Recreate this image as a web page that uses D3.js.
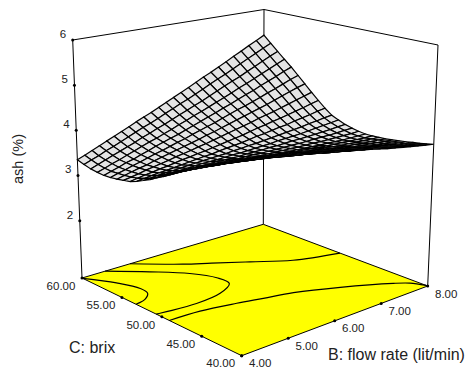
<!DOCTYPE html>
<html>
<head>
<meta charset="utf-8">
<script src="https://cdn.jsdelivr.net/npm/d3@7"></script>
<style>
  html, body { margin: 0; padding: 0; background: #fff; }
  text { font-family: "Liberation Sans", Arial, sans-serif; fill: #222; }
</style>
</head>
<body>
<svg id="chart"></svg>
<script>
const width = 470;
const height = 368;

// Tick labels
const flowTicks = [4, 5, 6, 7, 8];
const brixTicks = [60, 55, 50, 45, 40];
const ashTicks = [2, 3, 4, 5, 6];

// Mesh lines of the surface
const flowRate = [4.00, 4.16, 4.32, 4.48, 4.64, 4.80, 4.96, 5.12, 5.28, 5.44, 5.60, 5.76, 5.92, 6.08, 6.24, 6.40, 6.56, 6.72, 6.88, 7.04, 7.20, 7.36, 7.52, 7.68, 7.84, 8.00];
const brix = [40, 40.8, 41.6, 42.4, 43.2, 44, 44.8, 45.6, 46.4, 47.2, 48, 48.8, 49.6, 50.4, 51.2, 52, 52.8, 53.6, 54.4, 55.2, 56, 56.8, 57.6, 58.4, 59.2, 60];

// ash (%), one row per brix value, one column per flow rate
const ash = [
  [4.60, 4.59, 4.57, 4.55, 4.52, 4.49, 4.46, 4.44, 4.41, 4.37, 4.33, 4.30, 4.26, 4.23, 4.19, 4.17, 4.13, 4.10, 4.06, 4.02, 3.99, 3.95, 3.92, 3.89, 3.86, 3.83],
  [4.53, 4.52, 4.51, 4.48, 4.46, 4.43, 4.40, 4.38, 4.35, 4.31, 4.28, 4.24, 4.21, 4.18, 4.15, 4.12, 4.08, 4.05, 4.02, 3.98, 3.95, 3.92, 3.89, 3.86, 3.83, 3.80],
  [4.47, 4.45, 4.44, 4.42, 4.39, 4.36, 4.34, 4.31, 4.28, 4.25, 4.22, 4.19, 4.16, 4.12, 4.09, 4.07, 4.04, 4.00, 3.97, 3.94, 3.91, 3.88, 3.85, 3.82, 3.80, 3.77],
  [4.40, 4.38, 4.37, 4.35, 4.32, 4.30, 4.27, 4.25, 4.22, 4.19, 4.16, 4.13, 4.10, 4.07, 4.04, 4.02, 3.99, 3.96, 3.93, 3.90, 3.87, 3.84, 3.82, 3.79, 3.77, 3.75],
  [4.32, 4.31, 4.30, 4.28, 4.26, 4.23, 4.21, 4.19, 4.16, 4.13, 4.10, 4.07, 4.05, 4.02, 3.99, 3.97, 3.94, 3.92, 3.89, 3.86, 3.84, 3.81, 3.78, 3.76, 3.74, 3.72],
  [4.25, 4.24, 4.23, 4.21, 4.19, 4.16, 4.14, 4.12, 4.10, 4.07, 4.04, 4.01, 3.99, 3.96, 3.94, 3.92, 3.89, 3.87, 3.85, 3.82, 3.80, 3.77, 3.75, 3.73, 3.72, 3.70],
  [4.18, 4.17, 4.15, 4.14, 4.12, 4.10, 4.08, 4.06, 4.03, 4.01, 3.98, 3.96, 3.94, 3.91, 3.89, 3.87, 3.85, 3.83, 3.81, 3.79, 3.76, 3.74, 3.73, 3.71, 3.69, 3.68],
  [4.10, 4.09, 4.08, 4.06, 4.05, 4.03, 4.01, 3.99, 3.97, 3.95, 3.93, 3.90, 3.88, 3.86, 3.84, 3.83, 3.81, 3.79, 3.77, 3.75, 3.73, 3.72, 3.70, 3.69, 3.68, 3.66],
  [4.03, 4.02, 4.01, 3.99, 3.98, 3.96, 3.94, 3.93, 3.91, 3.89, 3.87, 3.85, 3.83, 3.81, 3.80, 3.78, 3.77, 3.75, 3.74, 3.72, 3.70, 3.69, 3.68, 3.67, 3.66, 3.65],
  [3.95, 3.95, 3.94, 3.93, 3.91, 3.90, 3.88, 3.87, 3.85, 3.83, 3.82, 3.80, 3.78, 3.77, 3.75, 3.74, 3.73, 3.72, 3.70, 3.69, 3.68, 3.67, 3.66, 3.65, 3.64, 3.64],
  [3.87, 3.87, 3.86, 3.85, 3.84, 3.83, 3.81, 3.80, 3.79, 3.77, 3.76, 3.75, 3.73, 3.72, 3.71, 3.70, 3.69, 3.68, 3.67, 3.66, 3.66, 3.65, 3.64, 3.64, 3.64, 3.64],
  [3.78, 3.78, 3.78, 3.77, 3.76, 3.75, 3.75, 3.74, 3.73, 3.72, 3.71, 3.70, 3.69, 3.68, 3.68, 3.67, 3.67, 3.66, 3.66, 3.66, 3.65, 3.65, 3.65, 3.65, 3.65, 3.66],
  [3.69, 3.69, 3.70, 3.69, 3.69, 3.69, 3.68, 3.68, 3.67, 3.67, 3.66, 3.66, 3.66, 3.65, 3.65, 3.65, 3.65, 3.65, 3.65, 3.65, 3.66, 3.66, 3.66, 3.67, 3.68, 3.69],
  [3.61, 3.61, 3.62, 3.62, 3.62, 3.62, 3.62, 3.62, 3.63, 3.62, 3.62, 3.62, 3.63, 3.63, 3.63, 3.64, 3.64, 3.65, 3.66, 3.66, 3.67, 3.68, 3.69, 3.70, 3.72, 3.73],
  [3.52, 3.53, 3.54, 3.55, 3.55, 3.56, 3.57, 3.58, 3.58, 3.58, 3.59, 3.60, 3.60, 3.61, 3.62, 3.63, 3.64, 3.66, 3.67, 3.68, 3.69, 3.71, 3.73, 3.75, 3.77, 3.79],
  [3.45, 3.46, 3.48, 3.49, 3.50, 3.51, 3.53, 3.54, 3.55, 3.56, 3.57, 3.58, 3.60, 3.61, 3.63, 3.64, 3.66, 3.68, 3.70, 3.72, 3.74, 3.76, 3.79, 3.81, 3.84, 3.86],
  [3.38, 3.40, 3.42, 3.44, 3.45, 3.47, 3.49, 3.51, 3.53, 3.55, 3.56, 3.59, 3.61, 3.63, 3.65, 3.68, 3.71, 3.73, 3.76, 3.79, 3.81, 3.85, 3.88, 3.91, 3.95, 3.98],
  [3.32, 3.35, 3.38, 3.40, 3.43, 3.45, 3.48, 3.51, 3.53, 3.56, 3.58, 3.61, 3.64, 3.67, 3.70, 3.73, 3.77, 3.81, 3.84, 3.88, 3.91, 3.95, 3.99, 4.03, 4.08, 4.12],
  [3.29, 3.32, 3.35, 3.39, 3.42, 3.45, 3.48, 3.52, 3.55, 3.58, 3.62, 3.65, 3.69, 3.73, 3.77, 3.81, 3.85, 3.89, 3.94, 3.98, 4.02, 4.07, 4.12, 4.17, 4.22, 4.27],
  [3.26, 3.30, 3.34, 3.38, 3.41, 3.46, 3.50, 3.54, 3.58, 3.62, 3.66, 3.70, 3.75, 3.79, 3.84, 3.89, 3.94, 3.99, 4.04, 4.09, 4.14, 4.20, 4.26, 4.32, 4.38, 4.43],
  [3.24, 3.29, 3.33, 3.38, 3.42, 3.47, 3.52, 3.56, 3.61, 3.66, 3.70, 3.76, 3.81, 3.86, 3.91, 3.97, 4.03, 4.09, 4.14, 4.20, 4.26, 4.33, 4.39, 4.46, 4.53, 4.59],
  [3.23, 3.28, 3.33, 3.39, 3.43, 3.49, 3.54, 3.60, 3.65, 3.70, 3.75, 3.81, 3.87, 3.93, 3.99, 4.05, 4.12, 4.18, 4.25, 4.32, 4.38, 4.46, 4.53, 4.60, 4.68, 4.75],
  [3.24, 3.29, 3.35, 3.40, 3.46, 3.52, 3.58, 3.64, 3.69, 3.75, 3.81, 3.88, 3.94, 4.01, 4.07, 4.14, 4.21, 4.28, 4.35, 4.43, 4.50, 4.58, 4.66, 4.74, 4.82, 4.90],
  [3.26, 3.32, 3.38, 3.44, 3.50, 3.56, 3.62, 3.69, 3.75, 3.82, 3.88, 3.95, 4.02, 4.09, 4.16, 4.23, 4.31, 4.39, 4.47, 4.55, 4.62, 4.71, 4.79, 4.88, 4.97, 5.05],
  [3.30, 3.36, 3.42, 3.49, 3.55, 3.62, 3.69, 3.76, 3.83, 3.89, 3.96, 4.04, 4.11, 4.19, 4.26, 4.34, 4.42, 4.51, 4.59, 4.67, 4.76, 4.85, 4.94, 5.03, 5.12, 5.21],
  [3.35, 3.41, 3.48, 3.55, 3.62, 3.69, 3.76, 3.83, 3.91, 3.98, 4.05, 4.13, 4.21, 4.29, 4.37, 4.45, 4.54, 4.63, 4.71, 4.80, 4.89, 4.99, 5.08, 5.18, 5.27, 5.37]
];

// Contour lines on the floor, [flow rate, brix]
const contourA = [[4.0, 59.9], [4.33, 57.56], [4.49, 55.5], [4.45, 54.35], [4.25, 53.55], [4.0, 53.24]];
const contourB = [[4.51, 60], [5.09, 57.7], [5.56, 55.4], [5.78, 53.3], [5.77, 51.7], [5.38, 50.63], [4.80, 50.26], [4.0, 50.7]];
const contourC = [[5.06, 60], [5.74, 57.3], [6.14, 55.98], [6.66, 54.17], [7.23, 52.1], [8.0, 50.67]];
const contourD = [[4.0, 49.07], [4.64, 48.9], [5.31, 48.17], [5.77, 47.5], [6.29, 46.74], [6.99, 44.96], [7.70, 42.5], [7.89, 41.54], [8.0, 40.2]];

const svg = d3.select("#chart")
  .attr("width", width)
  .attr("height", height)
  .style("display", "block");

// Scales to the unit cube
const u = d3.scaleLinear().domain([4, 8]).range([0, 1]);
const v = d3.scaleLinear().domain([40, 60]).range([0, 1]);
const w = d3.scaleLinear().domain([0.73, 6]).range([0, 1]);

// Where the corners of the box land on the page
const box = {
  floor: { front: [241.7, 355.7], right: [427.7, 286], left: [82, 278], back: [263.3, 224.3] },
  top: { front: [243, 90], right: [438, 45], left: [72.7, 40], back: [264, 9.5] }
};

function lerp(a, b, t) {
  return a + (b - a) * t;
}

function plane(p, s, t) {
  return [0, 1].map(k => lerp(lerp(p.front[k], p.right[k], s), lerp(p.left[k], p.back[k], s), t));
}

// Flow rate, brix and ash to page coordinates
function project(b, c, z) {
  const low = plane(box.floor, u(b), v(c));
  const high = plane(box.top, u(b), v(c));
  return [lerp(low[0], high[0], w(z)), lerp(low[1], high[1], w(z))];
}

const floorZ = w.domain()[0];
const ceilZ = w.domain()[1];
const line = d3.line();

// Back walls
const frame = [
  [[4, 60, floorZ], [4, 60, ceilZ], [8, 60, ceilZ], [8, 40, ceilZ], [8, 40, floorZ]],
  [[8, 60, floorZ], [8, 60, ceilZ]]
];
svg.selectAll(".frame")
  .data(frame)
  .enter()
  .append("path")
  .attr("class", "frame")
  .attr("d", d => line(d.map(p => project(p[0], p[1], p[2]))))
  .attr("fill", "none")
  .attr("stroke", "#000")
  .attr("stroke-width", 1);

// Floor
const floorCorners = [[4, 40], [8, 40], [8, 60], [4, 60]];
svg.append("path")
  .attr("d", d3.line().curve(d3.curveLinearClosed)(floorCorners.map(p => project(p[0], p[1], floorZ))))
  .attr("fill", "#ffff00")
  .attr("stroke", "#000")
  .attr("stroke-width", 1);

// Contours
const contourLine = d3.line().curve(d3.curveCatmullRom.alpha(0.5));
svg.selectAll(".contour")
  .data([contourA, contourB, contourC, contourD])
  .enter()
  .append("path")
  .attr("class", "contour")
  .attr("d", d => contourLine(d.map(p => project(p[0], p[1], floorZ))))
  .attr("fill", "none")
  .attr("stroke", "#000")
  .attr("stroke-width", 1.2);

// Surface, painted from the back corner to the front corner
const cells = [];
for (let j = brix.length - 2; j >= 0; j--) {
  for (let i = flowRate.length - 2; i >= 0; i--) {
    cells.push([
      [flowRate[i], brix[j], ash[j][i]],
      [flowRate[i + 1], brix[j], ash[j][i + 1]],
      [flowRate[i + 1], brix[j + 1], ash[j + 1][i + 1]],
      [flowRate[i], brix[j + 1], ash[j + 1][i]]
    ]);
  }
}
const cellPath = d3.line().curve(d3.curveLinearClosed);
svg.selectAll(".cell")
  .data(cells)
  .enter()
  .append("path")
  .attr("class", "cell")
  .attr("d", d => cellPath(d.map(p => project(p[0], p[1], p[2]))))
  .attr("fill", "#e4e4e4")
  .attr("stroke", "#000")
  .attr("stroke-width", 1.2);

// Tick dots
const dots = []
  .concat(ashTicks.map(z => project(4, 60, z)))
  .concat(brixTicks.map(c => project(4, c, floorZ)))
  .concat(flowTicks.map(b => project(b, 40, floorZ)));
svg.selectAll(".dot")
  .data(dots)
  .enter()
  .append("circle")
  .attr("class", "dot")
  .attr("cx", d => d[0])
  .attr("cy", d => d[1])
  .attr("r", 1.5)
  .attr("fill", "#000");

// Tick labels
svg.selectAll(".ash-label")
  .data(ashTicks)
  .enter()
  .append("text")
  .attr("class", "ash-label")
  .attr("x", d => project(4, 60, d)[0] - 9.7)
  .attr("y", d => project(4, 60, d)[1] - 2)
  .attr("text-anchor", "middle")
  .attr("font-size", 11.5)
  .text(d => d);

svg.selectAll(".brix-label")
  .data(brixTicks)
  .enter()
  .append("text")
  .attr("class", "brix-label")
  .attr("x", d => project(4, d, floorZ)[0] - 21)
  .attr("y", d => project(4, d, floorZ)[1] + 11.7)
  .attr("text-anchor", "middle")
  .attr("font-size", 11.5)
  .text(d => d3.format(".2f")(d));

svg.selectAll(".flow-label")
  .data(flowTicks)
  .enter()
  .append("text")
  .attr("class", "flow-label")
  .attr("x", d => project(d, 40, floorZ)[0] + 18.5)
  .attr("y", d => project(d, 40, floorZ)[1] + 11.6)
  .attr("text-anchor", "middle")
  .attr("font-size", 11.5)
  .text(d => d3.format(".2f")(d));

// Axis titles
svg.append("text")
  .attr("transform", "translate(23,159) rotate(-90)")
  .attr("text-anchor", "middle")
  .attr("font-size", 14.5)
  .text("ash (%)");

svg.append("text")
  .attr("x", 69)
  .attr("y", 352.5)
  .attr("font-size", 16)
  .text("C: brix");

svg.append("text")
  .attr("x", 328)
  .attr("y", 360)
  .attr("font-size", 16)
  .text("B: flow rate (lit/min)");
</script>
</body>
</html>
